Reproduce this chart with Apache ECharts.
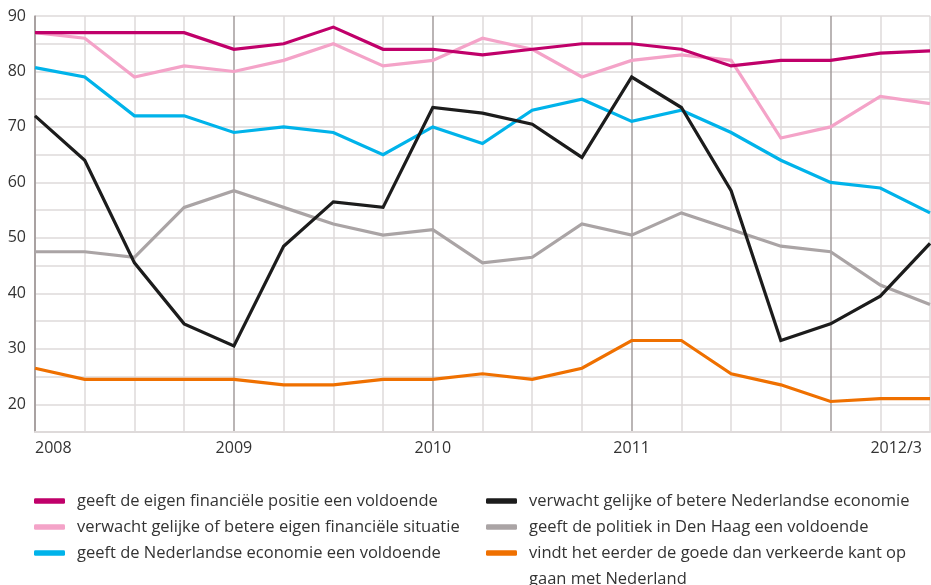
<!DOCTYPE html>
<html>
<head>
<meta charset="utf-8">
<script src="https://cdn.jsdelivr.net/npm/echarts@6/dist/echarts.min.js"></script>
<style>
html,body{margin:0;padding:0;background:#fff;}
#c{width:931px;height:585px;}
</style>
</head>
<body>
<div id="c"></div>
<script>
// ---- data ----
var categories = ['2008-1','2008-2','2008-3','2008-4','2009-1','2009-2','2009-3','2009-4','2010-1','2010-2','2010-3','2010-4','2011-1','2011-2','2011-3','2011-4','2012-1','2012-2','2012-3'];
var xTickLabels = ['2008','','','','2009','','','','2010','','','','2011','','','','','','2012/3'];
var yTickLabels = [20,30,40,50,60,70,80,90];

var nameFinPos = 'geeft de eigen financiële positie een voldoende';
var nameFinVerw = 'verwacht gelijke of betere eigen financiële situatie';
var nameEconVold = 'geeft de Nederlandse economie een voldoende';
var nameEconVerw = 'verwacht gelijke of betere Nederlandse economie';
var namePolitiek = 'geeft de politiek in Den Haag een voldoende';
var nameRichting = 'vindt het eerder de goede dan verkeerde kant op gaan met Nederland';

var finPos   = [87,87,87,87,84,85,88,84,84,83,84,85,85,84,81,82,82,83.3,83.7];
var finVerw  = [87,86,79,81,80,82,85,81,82,86,84,79,82,83,82,68,70,75.5,74.2];
var econVold = [80.7,79,72,72,69,70,69,65,70,67,73,75,71,73,69,64,60,59,54.5];
var econVerw = [72,64,45.5,34.5,30.5,48.5,56.5,55.5,73.5,72.5,70.5,64.5,79,73.5,58.5,31.5,34.5,39.5,49];
var politiek = [47.5,47.5,46.5,55.5,58.5,55.5,52.5,50.5,51.5,45.5,46.5,52.5,50.5,54.5,51.5,48.5,47.5,41.5,38];
var richting = [26.5,24.5,24.5,24.5,24.5,23.5,23.5,24.5,24.5,25.5,24.5,26.5,31.5,31.5,25.5,23.5,20.5,21,21];

var colors = {
  finPos: '#c0006a', finVerw: '#f4a3c8', econVold: '#00b3ea',
  econVerw: '#1c1c1c', politiek: '#aaa4a5', richting: '#ef7000'
};

function mkSeries(name, data, color){
  return {
    name: name, type: 'line', data: data, symbol: 'none', smooth: false,
    lineStyle: {width: 3.2, color: color, cap: 'butt', join: 'miter'},
    itemStyle: {color: color}, emphasis: {disabled: true}
  };
}

var series = [
  mkSeries(namePolitiek, politiek, colors.politiek),
  mkSeries(nameRichting, richting, colors.richting),
  mkSeries(nameFinVerw, finVerw, colors.finVerw),
  mkSeries(nameEconVold, econVold, colors.econVold),
  mkSeries(nameEconVerw, econVerw, colors.econVerw),
  mkSeries(nameFinPos, finPos, colors.finPos)
];

var fontFam = '"Open Sans", Lato, sans-serif';
var lh = 26;
function mkLegend(name, left, centerY, label, lines){
  var n = lines || 1;
  return {
    data: [name], left: left, top: centerY - (n * lh) / 2, padding: 0,
    orient: 'vertical', icon: 'roundRect', itemWidth: 31, itemHeight: 5.5,
    selectedMode: false,
    formatter: function(){ return label; },
    textStyle: {fontFamily: fontFam, fontSize: 16.5, color: '#333', lineHeight: lh, padding: [0,0,0,7]}
  };
}

var legends = [
  mkLegend(nameFinPos, 34, 501, nameFinPos),
  mkLegend(nameFinVerw, 34, 527, nameFinVerw),
  mkLegend(nameEconVold, 34, 553, nameEconVold),
  mkLegend(nameEconVerw, 486, 501, nameEconVerw),
  mkLegend(namePolitiek, 486, 527, namePolitiek),
  // blank first line keeps the icon level with the first text line
  mkLegend(nameRichting, 486, 553, '\u00a0\nvindt het eerder de goede dan verkeerde kant op\ngaan met Nederland', 3)
];

var light = '#dedada';
var dark = '#a39c9d';

var option = {
  animation: false,
  backgroundColor: '#fff',
  textStyle: {fontFamily: fontFam},
  grid: {left: 35, right: 1, top: 16, bottom: 153, containLabel: false},
  legend: legends,
  xAxis: {
    type: 'category', data: categories, boundaryGap: false,
    axisLine: {show: true, lineStyle: {color: light, width: 2}},
    axisTick: {show: false},
    axisLabel: {
      interval: 0, margin: 8, fontSize: 16, color: '#333', fontFamily: fontFam,
      alignMinLabel: 'left', alignMaxLabel: 'right',
      formatter: function(v, i){
        var t = xTickLabels[i];
        return i === xTickLabels.length - 1 ? '{e|' + t + '}' : t;
      },
      rich: {e: {fontSize: 16, color: '#333', fontFamily: fontFam, padding: [0, 8, 0, 0]}}
    },
    splitLine: {show: true, lineStyle: {color: [dark, light, light, light], width: 1.5}}
  },
  yAxis: {
    type: 'value', min: 15, max: 90, interval: 5,
    axisLine: {show: true, lineStyle: {color: dark, width: 1.5}},
    axisTick: {show: false},
    axisLabel: {
      margin: 9, fontSize: 16, color: '#333', fontFamily: fontFam,
      formatter: function(v){ return yTickLabels.indexOf(v) >= 0 ? String(v) : ''; }
    },
    splitLine: {show: true, lineStyle: {color: light, width: 1.5}}
  },
  series: series
};

var chart = echarts.init(document.getElementById('c'), null, {renderer: 'canvas'});
chart.setOption(option);
</script>
</body>
</html>
